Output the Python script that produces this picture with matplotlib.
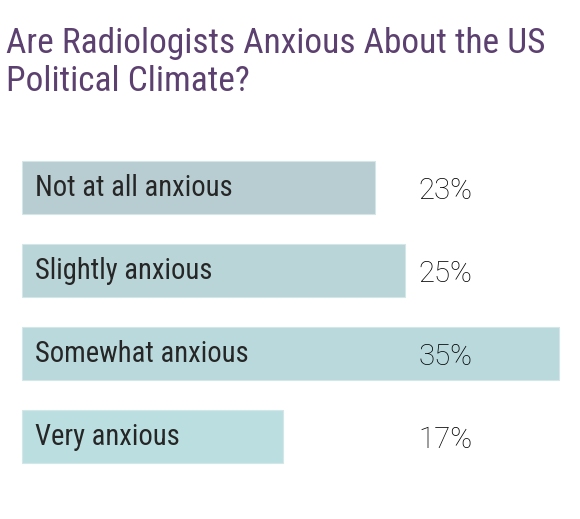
import matplotlib
matplotlib.use("Agg")
import matplotlib.pyplot as plt

categories = ["Not at all anxious", "Slightly anxious", "Somewhat anxious", "Very anxious"]
values = [23, 25, 35, 17]
value_labels = ["23%", "25%", "35%", "17%"]
bar_colors = ["#b8cdd1", "#b9d5d8", "#b9d9dc", "#bbdfe0"]

title_lines = ["Are Radiologists Anxious About the US", "Political Climate?"]

W, H, DPI = 580, 519, 100
fig = plt.figure(figsize=(W / DPI, H / DPI), dpi=DPI)
fig.patch.set_facecolor("white")
ax = fig.add_axes([0, 0, 1, 1])

px_per_unit = 15.33
x0_px = 22
ax.set_xlim(-x0_px / px_per_unit, (W - x0_px) / px_per_unit)
pitch = 83.0
c0 = 187.5
ax.set_ylim((H - c0) / pitch, -c0 / pitch)
ax.axis("off")

ypos = list(range(len(categories)))
ax.barh(ypos, values, height=53 / pitch, color=bar_colors, edgecolor="#d4e6e8", linewidth=0.8)

for y, cat, lab in zip(ypos, categories, value_labels):
    ax.annotate(cat, xy=(0, y), xytext=(13, -8.5), textcoords="offset pixels",
                ha="left", va="baseline", fontsize=20.6, color="#262626",
                family="Roboto Condensed", fontweight="normal")
    ax.annotate(lab, xy=(0, y), xytext=(396, -11.8), textcoords="offset pixels",
                ha="left", va="baseline", fontsize=21.2, color="#000000",
                family="Roboto", fontweight="light")

title_color = "#5c4070"
fig.text(6 / W, 1 - 53.3 / H, title_lines[0], ha="left", va="baseline",
         fontsize=25.5, color=title_color, family="Roboto Condensed")
fig.text(6 / W, 1 - 90.7 / H, title_lines[1], ha="left", va="baseline",
         fontsize=25.5, color=title_color, family="Roboto Condensed")

fig.savefig("out.png", dpi=DPI, facecolor="white")
